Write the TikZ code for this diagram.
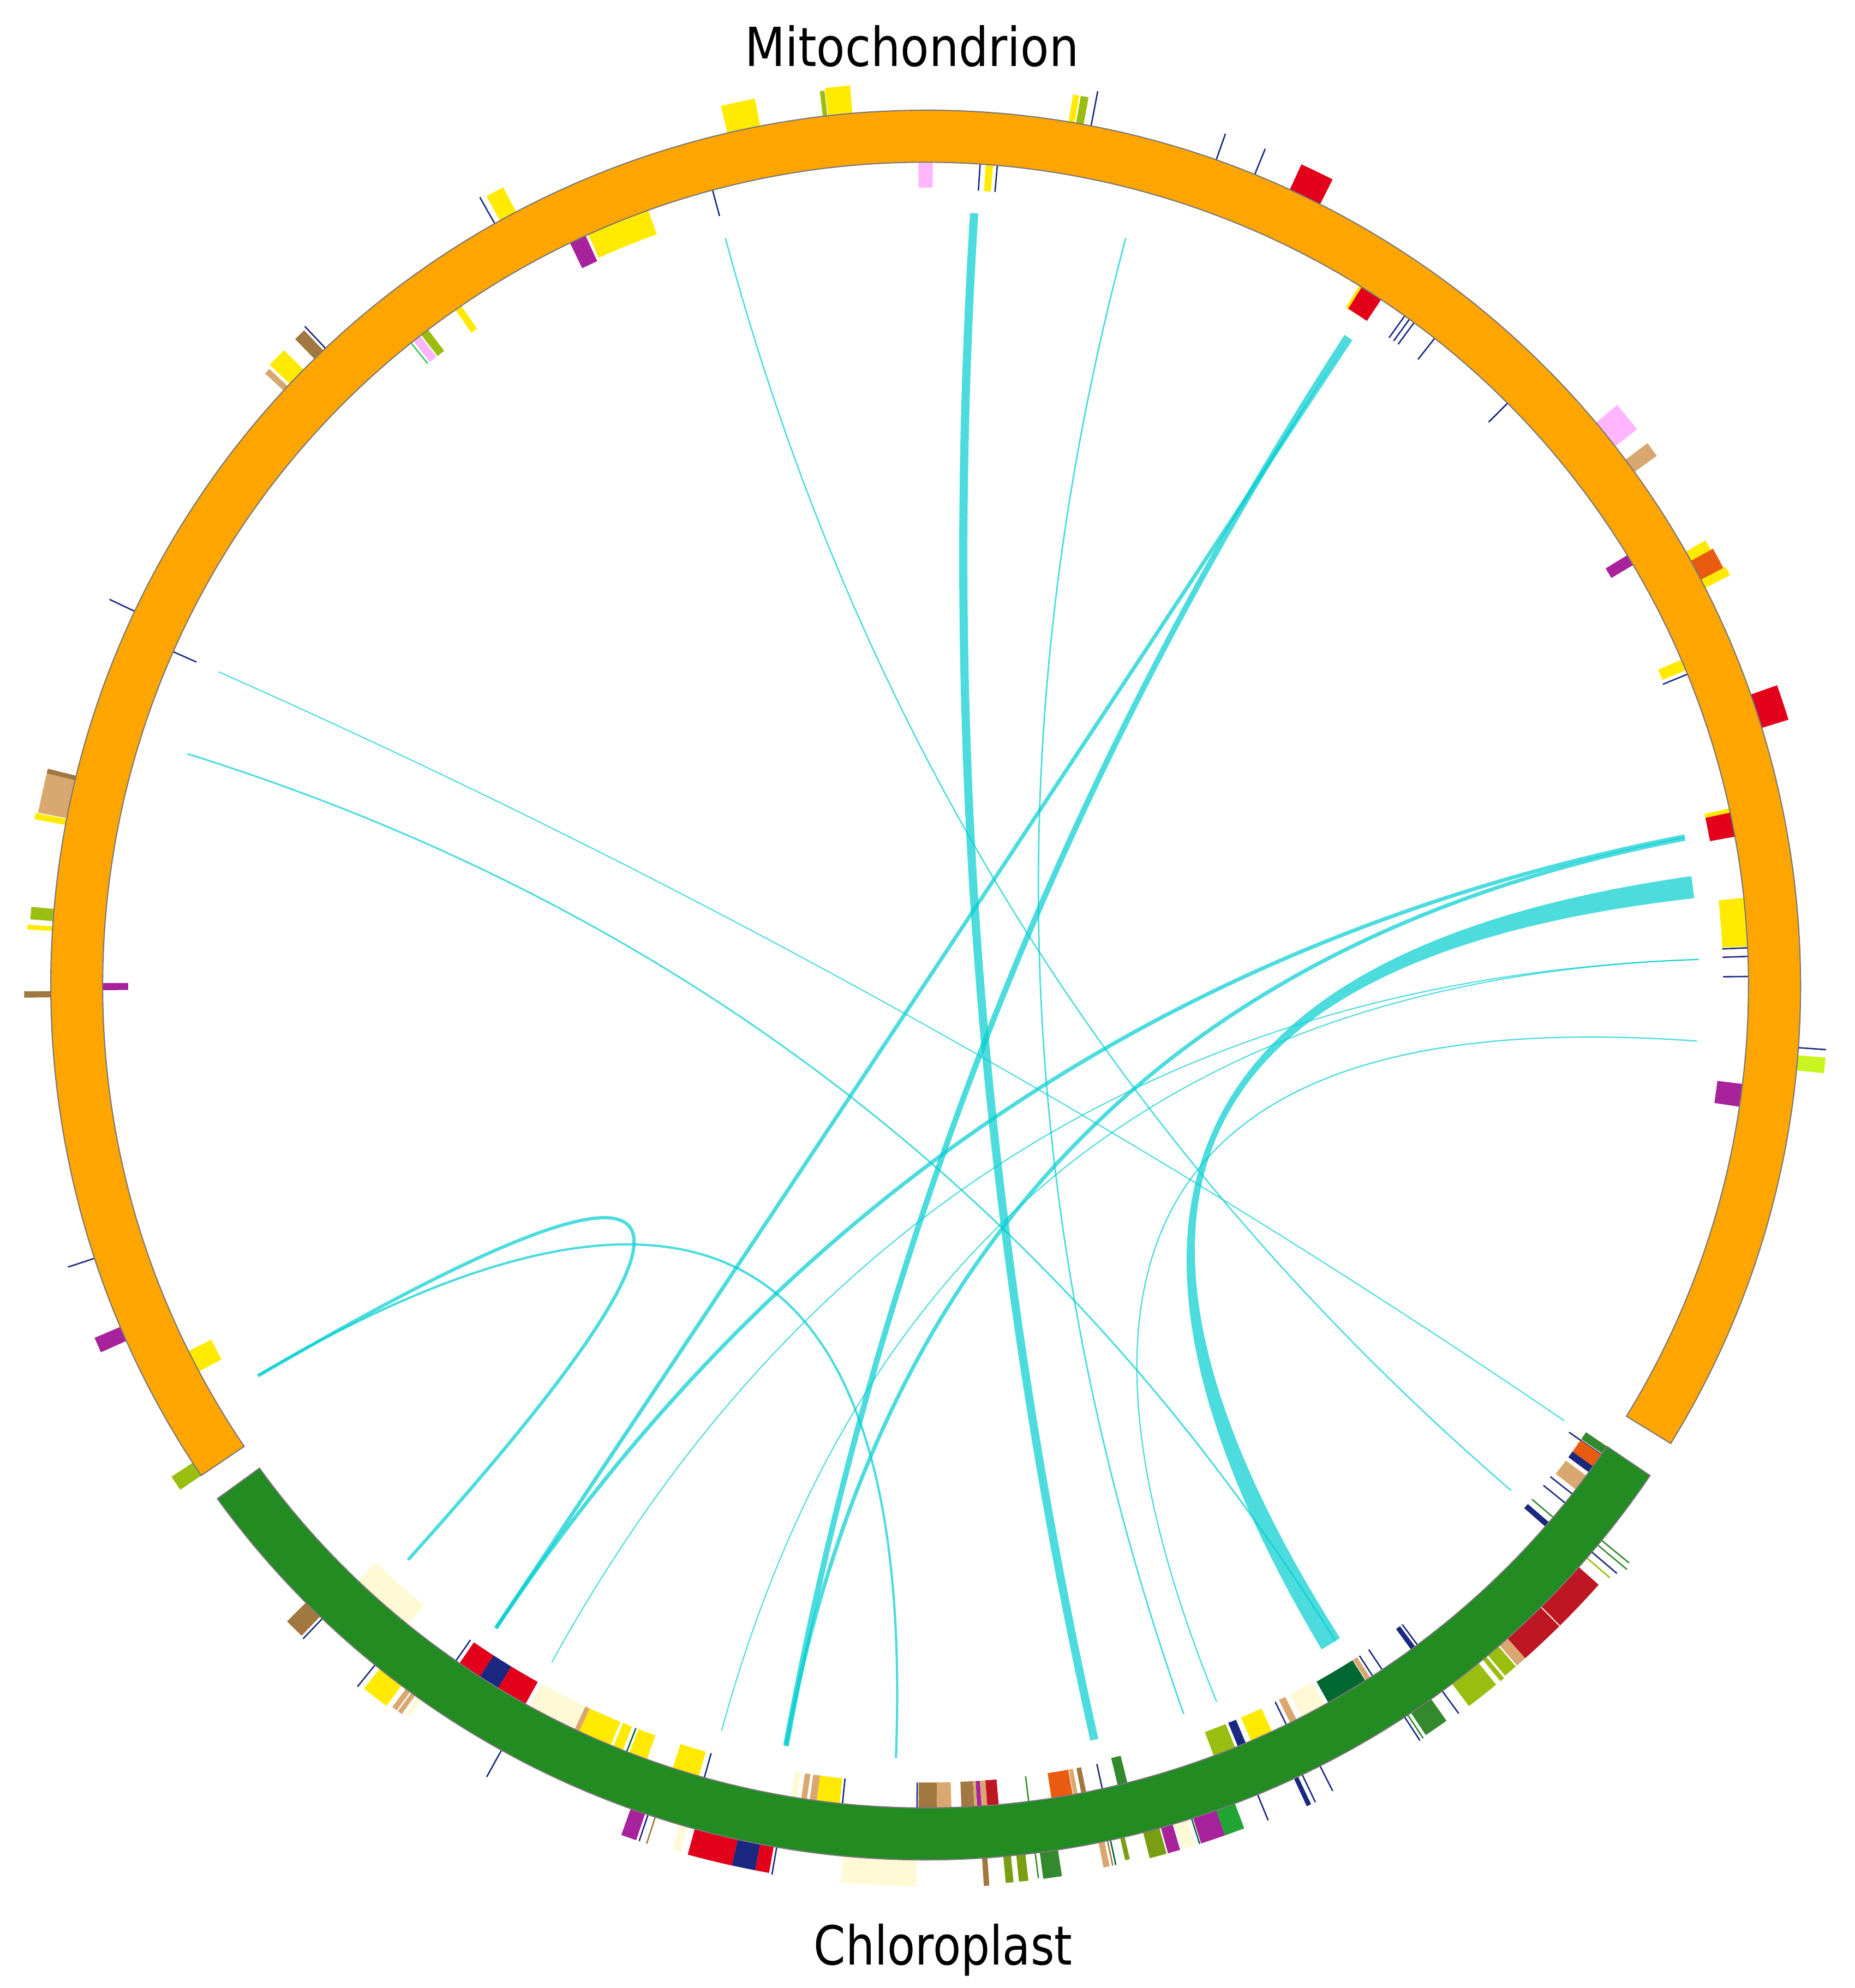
\documentclass[tikz,border=0pt]{standalone}
\usepackage{fontspec}
\setmainfont{DejaVu Sans}
\usetikzlibrary{calc}
\definecolor{cyel}{RGB}{255,234,0}
\definecolor{cyg}{RGB}{154,190,15}
\definecolor{colive}{RGB}{122,158,18}
\definecolor{cblue}{RGB}{26,40,128}
\definecolor{cred}{RGB}{226,0,26}
\definecolor{ccrim}{RGB}{190,22,34}
\definecolor{cpink}{RGB}{255,182,255}
\definecolor{cpurp}{RGB}{168,35,155}
\definecolor{ctan}{RGB}{217,168,112}
\definecolor{cbrown}{RGB}{160,120,64}
\definecolor{ccream}{RGB}{255,249,213}
\definecolor{cored}{RGB}{232,91,16}
\definecolor{cdkg}{RGB}{0,104,48}
\definecolor{cmedg}{RGB}{51,138,46}
\definecolor{cbrg}{RGB}{34,165,53}
\definecolor{clime}{RGB}{200,245,32}
\definecolor{cltg}{RGB}{51,204,85}
\definecolor{ringor}{RGB}{255,165,0}
\definecolor{ringgr}{RGB}{34,139,34}
\definecolor{ringedge}{RGB}{120,120,120}
\definecolor{lkc}{RGB}{0,206,209}
\newcommand{\cfeat}[5]{\fill[#5] ({90-(#1)}:#3pt) arc[start angle={90-(#1)}, end angle={90-(#2)}, radius=#3pt] -- ({90-(#2)}:#4pt) arc[start angle={90-(#2)}, end angle={90-(#1)}, radius=#4pt] -- cycle;}
\newcommand{\ctick}[4]{\draw[#4, line width=1.1pt] ({90-(#1)}:#2pt) -- ({90-(#1)}:#3pt);}
\newcommand{\clink}[4]{%
  \coordinate (#1s) at ({90-(#2)}:610pt);
  \coordinate (#1e) at ({90-(#3)}:610pt);
  \draw[lk, line width=#4pt] (#1s) .. controls ($(#1s)!0.6667!(O)$) and ($(#1e)!0.6667!(O)$) .. (#1e);}
\tikzset{
  lk/.style={draw=lkc, draw opacity=0.7},
  lkfill/.style={fill=lkc, fill opacity=0.7},
  lbl/.style={anchor=base west, inner sep=0pt, font=\fontsize{42.5pt}{51pt}\selectfont}
}
\begin{document}
\begin{tikzpicture}[x=1pt,y=1pt]
\useasboundingbox (0,0) rectangle (1463,1568);
\fill[white] (0,0) rectangle (1463,1568);
\begin{scope}[shift={(730,791)}]
\coordinate (O) at (0,0);
% ---------- Mitochondrion features ----------
\cfeat{-13.1}{-10.9}{690}{712}{cyel}
\cfeat{-6.75}{-6.45}{690}{710}{cyg}
\cfeat{-6.4}{-4.8}{690}{712}{cyel}
\cfeat{9.4}{9.8}{690}{712}{cyel}
\cfeat{9.9}{10.4}{690}{712}{cyg}
\ctick{10.9}{690}{718}{cblue}
\ctick{19.4}{690}{712}{cblue}
\ctick{22.1}{690}{712}{cblue}
\cfeat{24.6}{26.8}{690}{712}{cred}
\cfeat{-0.5}{0.5}{629}{649}{cpink}
\ctick{3.8}{628}{649}{cblue}
\cfeat{4.2}{4.7}{628}{649}{cyel}
\ctick{5.0}{628}{649}{cblue}
\ctick{-15.0}{628}{649}{cblue}
\cfeat{-24.2}{-19.7}{629}{649}{cyel}
\cfeat{-25.6}{-24.4}{627}{649}{cpurp}
\cfeat{-29.1}{-27.9}{690}{712}{cyel}
\ctick{-29.5}{690}{714}{cblue}
\cfeat{-34.85}{-34.35}{627}{649}{cyel}
\cfeat{-37.8}{-37.2}{628}{649}{cyg}
\cfeat{-38.5}{-37.9}{628}{649}{cpink}
\ctick{-38.7}{628}{649}{cltg}
\cfeat{-44.3}{-43.5}{690}{712}{cbrown}
\ctick{-43.3}{690}{714}{cblue}
\cfeat{-46.6}{-45.3}{690}{712}{cyel}
\cfeat{-47.2}{-46.8}{690}{710}{ctan}
\ctick{-64.7}{690}{712}{cblue}
\ctick{-66.1}{629}{649}{cblue}
\cfeat{-79.0}{-76.3}{690}{713}{ctan}
\cfeat{-76.45}{-76.15}{690}{713}{cbrown}
\cfeat{-79.45}{-79.05}{690}{715}{cyel}
\cfeat{-85.8}{-85.0}{690}{708}{cyg}
\cfeat{-86.45}{-86.15}{690}{710}{cyel}
\cfeat{-90.8}{-90.4}{690}{711}{cbrown}
\cfeat{-90.35}{-89.85}{629}{649}{cpurp}
\ctick{-108.2}{690}{712}{cblue}
\cfeat{-114.0}{-113.0}{690}{712}{cpurp}
\cfeat{-118.0}{-116.4}{629}{649}{cyel}
\cfeat{-124.1}{-123.1}{690}{710}{cyg}
\cfeat{50.0}{52.0}{690}{712}{cpink}
\cfeat{53.1}{54.1}{690}{712}{ctan}
\cfeat{58.5}{59.3}{629}{649}{cpurp}
\cfeat{60.3}{61.0}{690}{708}{cyel}
\cfeat{61.0}{62.4}{690}{710}{cored}
\cfeat{62.4}{63.0}{690}{712}{cyel}
\cfeat{31.8}{32.05}{629}{649}{cyel}
\cfeat{32.0}{33.6}{629}{649}{cred}
\ctick{35.6}{628}{649}{cblue}
\ctick{36.0}{628}{649}{cblue}
\ctick{36.4}{628}{649}{cblue}
\ctick{38.2}{628}{649}{cblue}
\ctick{45.0}{628}{649}{cblue}
\cfeat{66.7}{67.5}{629}{649}{cyel}
\ctick{67.8}{628}{649}{cblue}
\cfeat{70.6}{72.9}{690}{712}{cred}
\cfeat{77.6}{77.9}{629}{649}{cyel}
\cfeat{77.9}{79.6}{629}{649}{cred}
\cfeat{83.9}{87.3}{629}{649}{cyel}
\ctick{87.4}{629}{649}{cblue}
\ctick{88.0}{629}{649}{cblue}
\ctick{89.4}{629}{649}{cblue}
\ctick{94.1}{690}{712}{cblue}
\cfeat{94.6}{95.6}{690}{712}{clime}
\cfeat{96.9}{98.5}{629}{649}{cpurp}
% ---------- Chloroplast features ----------
\cfeat{219.0}{223.6}{629}{649}{ccream}
\cfeat{223.8}{225.1}{690}{711}{cbrown}
\ctick{223.6}{690}{712}{cblue}
\cfeat{216.8}{218.6}{690}{710}{cyel}
\ctick{219.0}{690}{712}{cblue}
\cfeat{216.1}{216.45}{690}{708}{ctan}
\cfeat{215.7}{216.0}{690}{708}{ctan}
\cfeat{215.2}{215.5}{690}{706}{ccream}
\cfeat{212.8}{214.5}{629}{649}{cred}
\cfeat{211.3}{212.8}{629}{649}{cblue}
\cfeat{209.1}{211.3}{629}{649}{cred}
\ctick{214.8}{629}{649}{cblue}
\cfeat{205.3}{208.8}{629}{649}{ccream}
\cfeat{204.9}{205.25}{629}{649}{ctan}
\cfeat{202.5}{204.9}{629}{649}{cyel}
\cfeat{201.6}{202.3}{629}{649}{cyel}
\ctick{201.3}{629}{649}{cdkg}
\cfeat{199.8}{201.1}{629}{649}{cyel}
\cfeat{196.0}{197.9}{629}{649}{cyel}
\ctick{195.6}{629}{649}{cblue}
\ctick{209.0}{690}{714}{cblue}
\cfeat{198.7}{199.7}{690}{712}{cpurp}
\ctick{198.5}{690}{712}{cblue}
\ctick{198.0}{690}{712}{cbrown}
\cfeat{195.8}{196.3}{690}{710}{ccream}
\cfeat{192.4}{195.3}{690}{711}{cred}
\cfeat{190.9}{192.4}{690}{711}{cblue}
\cfeat{190.0}{190.9}{690}{711}{cred}
\ctick{189.8}{690}{712}{cblue}
\cfeat{180.6}{185.4}{690}{711}{ccream}
\cfeat{189.0}{189.4}{629}{649}{ccream}
\cfeat{188.3}{188.7}{629}{649}{ctan}
\cfeat{187.6}{188.1}{629}{649}{ctan}
\cfeat{186.0}{187.6}{629}{649}{cyel}
\ctick{185.8}{629}{649}{cblue}
\cfeat{179.2}{180.5}{629}{649}{cbrown}
\cfeat{178.2}{179.2}{629}{649}{ctan}
\ctick{180.6}{629}{649}{cblue}
\cfeat{176.6}{177.5}{629}{649}{cbrown}
\cfeat{176.4}{176.6}{629}{649}{ctan}
\cfeat{176.1}{176.4}{629}{649}{cpurp}
\cfeat{175.7}{176.1}{629}{649}{ctan}
\cfeat{174.9}{175.7}{629}{649}{ccrim}
\ctick{172.8}{629}{649}{cmedg}
\cfeat{169.7}{171.2}{629}{649}{cored}
\cfeat{169.35}{169.65}{629}{649}{ctan}
\cfeat{168.75}{169.1}{629}{649}{cbrown}
\ctick{167.6}{629}{649}{cblue}
\cfeat{165.8}{166.5}{627}{649}{cmedg}
\cfeat{175.95}{176.3}{690}{712}{cbrown}
\cfeat{174.4}{174.9}{690}{711}{colive}
\cfeat{173.45}{174.05}{690}{711}{colive}
\ctick{172.8}{690}{710}{cmedg}
\cfeat{171.3}{172.5}{690}{711}{cmedg}
\cfeat{168.2}{168.6}{690}{710}{ctan}
\ctick{168.0}{690}{710}{cbrown}
\ctick{167.8}{690}{710}{cdkg}
\cfeat{166.85}{167.15}{690}{708}{colive}
\cfeat{164.5}{165.6}{690}{711}{colive}
\cfeat{163.6}{164.4}{690}{711}{cpurp}
\cfeat{162.6}{163.5}{690}{711}{ccream}
\ctick{162.3}{690}{711}{cdkg}
\cfeat{160.6}{162.2}{690}{711}{cpurp}
\cfeat{159.3}{160.6}{690}{711}{cbrg}
\cfeat{157.9}{159.5}{629}{649}{cyg}
\cfeat{157.1}{157.7}{629}{649}{cblue}
\cfeat{155.1}{156.7}{629}{649}{cyel}
\ctick{154.0}{629}{649}{cblue}
\cfeat{153.2}{153.7}{629}{649}{ctan}
\cfeat{151.0}{152.8}{629}{649}{ccream}
\cfeat{147.7}{150.7}{630}{649}{cdkg}
\cfeat{147.3}{147.65}{630}{649}{ctan}
\ctick{147.1}{630}{649}{cblue}
\ctick{146.3}{630}{649}{cblue}
\ctick{143.3}{629}{649}{cblue}
\cfeat{143.5}{143.85}{629}{649}{cblue}
\ctick{157.7}{690}{712}{cblue}
\ctick{154.5}{690}{714}{cblue}
\cfeat{154.8}{155.1}{690}{714}{cblue}
\ctick{153.2}{690}{712}{cblue}
\cfeat{144.7}{146.3}{690}{711}{cmedg}
\ctick{146.8}{690}{712}{cblue}
\ctick{146.55}{690}{712}{cmedg}
\ctick{143.8}{690}{712}{cblue}
\cfeat{140.8}{143.0}{690}{712}{cyg}
\cfeat{140.15}{140.45}{690}{712}{cyg}
\cfeat{139.1}{140.0}{690}{711}{cyg}
\cfeat{138.2}{139.0}{690}{711}{ctan}
\cfeat{131.7}{138.3}{690}{711}{ccrim}
\draw[white, line width=0.8pt] ({90-135.3}:690pt) -- ({90-135.3}:711pt);
\ctick{130.4}{690}{716}{cblue}
\ctick{130.9}{690}{714}{cyg}
\ctick{129.8}{690}{720}{cmedg}
\ctick{129.4}{690}{718}{cmedg}
\cfeat{124.1}{124.7}{629}{649}{cmedg}
\ctick{124.8}{618}{649}{cblue}
\cfeat{124.8}{125.8}{629}{649}{cored}
\cfeat{125.8}{126.3}{629}{649}{cblue}
\cfeat{126.6}{127.8}{629}{649}{ctan}
\ctick{128.2}{627}{649}{cblue}
\ctick{129.0}{627}{649}{cblue}
\ctick{130.3}{627}{649}{cmedg}
\cfeat{130.75}{131.15}{627}{649}{cblue}
% ---------- Ideogram ring ----------
\filldraw[fill=ringor, draw=ringedge, line width=0.9pt] ({90-(-124.1)}:649pt) arc[start angle={90-(-124.1)}, end angle={90-121.6}, radius=649pt] -- ({90-121.6}:690pt) arc[start angle={90-121.6}, end angle={90-(-124.1)}, radius=690pt] -- cycle;
\filldraw[fill=ringgr, draw=ringedge, line width=0.9pt] ({90-124.1}:649pt) arc[start angle={90-124.1}, end angle={90-234.05}, radius=649pt] -- ({90-234.05}:690pt) arc[start angle={90-234.05}, end angle={90-124.1}, radius=690pt] -- cycle;
% ---------- Links ----------
\clink{A}{-15.0}{130.8}{1.1}
\clink{B}{-66.1}{124.3}{0.9}
\clink{C}{-72.6}{148.0}{1.3}
\clink{E}{3.6}{167.4}{6.5}
\clink{F}{15.0}{160.5}{1.2}
\clink{Ga}{33.35}{213.75}{3}
\clink{Gb}{33.0}{190.4}{4.5}
\clink{Ha}{78.9}{213.75}{3}
\clink{Hb}{79.1}{190.4}{3}
\clink{Ja}{88.1}{208.9}{0.9}
\clink{Jb}{88.1}{195.3}{0.9}
\clink{K}{94.15}{157.9}{1.0}
\clink{La}{-120.35}{222.0}{2.6}
\clink{Lb}{-120.3}{182.2}{1.8}
\coordinate (Isa) at ({90-81.9}:610pt);
\coordinate (Isb) at ({90-83.55}:610pt);
\coordinate (Iea) at ({90-147.6}:610pt);
\coordinate (Ieb) at ({90-149.2}:610pt);
\fill[lkfill] (Isa) arc[start angle={90-81.9}, end angle={90-83.55}, radius=610pt]
  .. controls ($(Isb)!0.6667!(O)$) and ($(Iea)!0.6667!(O)$) .. (Iea)
  arc[start angle={90-147.6}, end angle={90-149.2}, radius=610pt]
  .. controls ($(Ieb)!0.6667!(O)$) and ($(Isa)!0.6667!(O)$) .. (Isa) -- cycle;
\end{scope}
% ---------- Labels ----------
\node[lbl] (mito) at (587.4,1515.6) {\scalebox{0.867}[1]{Mitochondrion}};
\node[lbl] (chloro) at (641.7,18.4) {\scalebox{0.847}[1]{Chloroplast}};
\end{tikzpicture}
\end{document}
